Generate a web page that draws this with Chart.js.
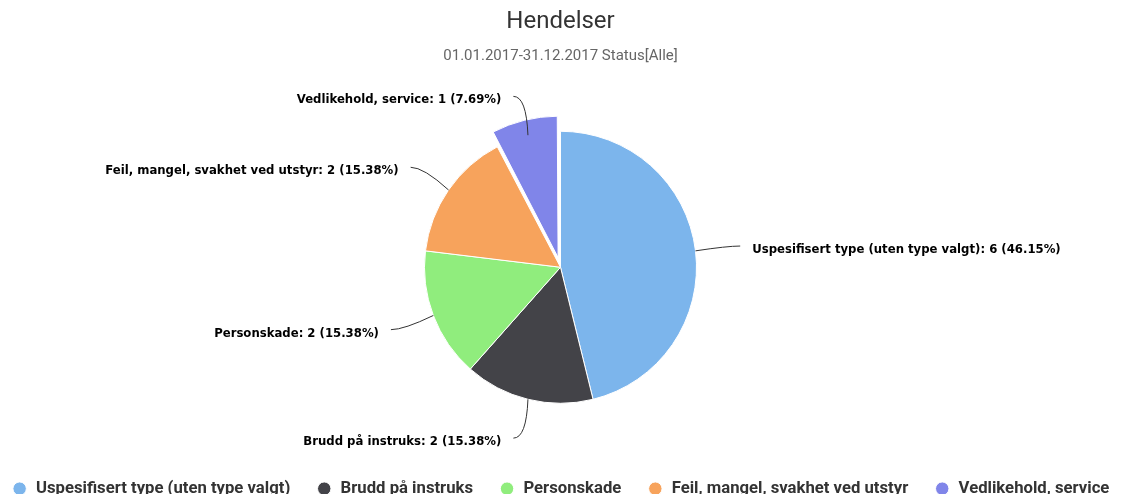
<!DOCTYPE html>
<html>
<head>
<meta charset="utf-8">
<script src="https://cdn.jsdelivr.net/npm/chart.js@4/dist/chart.umd.min.js"></script>
<style>
	html, body { margin: 0; padding: 0; background: #fff; }
	#wrap { width: 1121px; height: 494px; }
</style>
</head>
<body>
<div id="wrap"><canvas id="cntx_hendelser"></canvas></div>
<script>
const categories = [
	"Uspesifisert type (uten type valgt)",
	"Brudd på instruks",
	"Personskade",
	"Feil, mangel, svakhet ved utstyr",
	"Vedlikehold, service",
];
const counts = [6, 2, 2, 2, 1];
const colors = ["#7cb5ec", "#434348", "#90ed7d", "#f7a35c", "#8085e9"];
// chart.js v4 divides arc offset by 4, so 40 -> 10px
const sliced = [0, 0, 0, 0, 40];

// labels with connectors, like the old dashboard had
const pieLabels = {
	id: "pieLabels",
	afterDatasetsDraw(chart) {
		const ctx = chart.ctx;
		const meta = chart.getDatasetMeta(0);
		const total = counts.reduce((a, b) => a + b, 0);
		meta.data.forEach((arc, i) => {
			const p = arc.getProps(["x", "y", "startAngle", "endAngle", "outerRadius"], true);
			const mid = (p.startAngle + p.endAngle) / 2;
			const cos = Math.cos(mid);
			const sin = Math.sin(mid);
			const ex = p.x + p.outerRadius * cos;
			const ey = p.y + p.outerRadius * sin;
			const lx = p.x + (p.outerRadius + 40) * cos;
			const ly = p.y + (p.outerRadius + 40) * sin;
			const dir = cos >= 0 ? 1 : -1;

			ctx.save();
			ctx.strokeStyle = "#333";
			ctx.lineWidth = 1;
			ctx.beginPath();
			ctx.moveTo(lx + dir * 5, ly);
			ctx.quadraticCurveTo(lx - dir * 8, ly, ex, ey);
			ctx.stroke();

			const pct = ((counts[i] / total) * 100).toFixed(2);
			const text = categories[i] + ": " + counts[i] + " (" + pct + "%)";
			ctx.font = "bold 11.7px 'DejaVu Sans'";
			ctx.textAlign = dir > 0 ? "left" : "right";
			ctx.textBaseline = "middle";
			ctx.lineJoin = "round";
			ctx.lineWidth = 2;
			ctx.strokeStyle = "#fff";
			ctx.strokeText(text, lx + dir * 17, ly + 4);
			ctx.fillStyle = "#000";
			ctx.fillText(text, lx + dir * 17, ly + 4);
			ctx.restore();
		});
	},
};

const canvas = document.querySelector("#cntx_hendelser");
const myChart = new Chart(canvas, {
	type: "pie",
	data: {
		labels: categories,
		datasets: [
			{
				data: counts,
				backgroundColor: colors,
				borderColor: "#fff",
				borderWidth: 1,
				offset: sliced,
				radius: 136,
			},
		],
	},
	options: {
		responsive: true,
		maintainAspectRatio: false,
		animation: false,
		layout: { padding: { left: -30, right: -30, bottom: -13 } },
		plugins: {
			title: {
				display: true,
				text: "Hendelser",
				color: "#333",
				font: { family: "Roboto", size: 24, weight: "normal" },
				padding: { top: 7.6, bottom: 10.6 },
			},
			subtitle: {
				display: true,
				text: "01.01.2017-31.12.2017 Status[Alle]",
				color: "#666",
				font: { family: "Roboto", size: 15 },
				padding: { top: 0, bottom: 15.2 },
			},
			legend: {
				position: "bottom",
				labels: {
					usePointStyle: true,
					pointStyle: "circle",
					boxWidth: 16,
					boxHeight: 9.5,
					padding: 26,
					color: "#333",
					font: { family: "Roboto", size: 16.7, weight: "bold" },
				},
			},
			tooltip: { enabled: false },
		},
	},
	plugins: [pieLabels],
});
</script>
</body>
</html>
